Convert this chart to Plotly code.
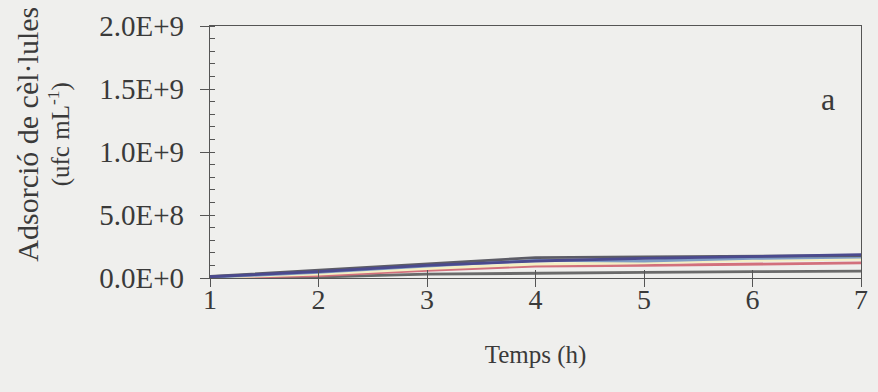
import plotly.graph_objects as go

hours = [1, 2, 3, 4, 5, 6, 7]
# adsorbed cells (ufc/mL)
s_navy = [1.0e7, 5.0e7, 1.0e8, 1.35e8, 1.55e8, 1.72e8, 1.85e8]
s_gray = [1.2e7, 6.0e7, 1.1e8, 1.62e8, 1.68e8, 1.72e8, 1.78e8]
s_lblue = [0.6e7, 4.5e7, 0.95e8, 1.40e8, 1.35e8, 1.55e8, 1.65e8]
s_yellow = [0.5e7, 3.0e7, 0.75e8, 1.10e8, 1.20e8, 1.40e8, 1.50e8]
s_red = [0.2e7, 2.0e7, 0.6e8, 0.95e8, 1.00e8, 1.10e8, 1.20e8]
s_low = [0.0, 0.8e7, 0.30e8, 0.40e8, 0.45e8, 0.50e8, 0.55e8]

series = [
    ("S1", s_low, "#6a6a6a"),
    ("S2", s_red, "#d2707c"),
    ("S3", s_yellow, "#f4efc4"),
    ("S4", s_lblue, "#7f9cc4"),
    ("S5", s_gray, "#5c5c66"),
    ("S6", s_navy, "#4b4a8e"),
]

ytick_vals = [0, 5e8, 1e9, 1.5e9, 2e9]
ytick_text = ["0.0E+0", "5.0E+8", "1.0E+9", "1.5E+9", "2.0E+9"]
xtick_vals = [1, 2, 3, 4, 5, 6, 7]

font_family = "Liberation Serif"
txt_color = "#3a3a3a"
axis_color = "#555555"

fig = go.Figure()
for name, vals, col in series:
    fig.add_trace(go.Scatter(x=hours, y=vals, mode="lines", name=name,
                             line=dict(color=col, width=2.8)))

# invisible trace on the overlay axis (for crossing x ticks)
fig.add_trace(go.Scatter(x=hours, y=s_low, xaxis="x2", mode="lines",
                         line=dict(width=0), hoverinfo="skip", showlegend=False,
                         opacity=0))

fig.update_layout(
    width=878, height=392,
    margin=dict(l=210, r=10, t=20, b=114),
    paper_bgcolor="#efefed", plot_bgcolor="#efefed",
    showlegend=False,
    font=dict(family=font_family, color=txt_color, size=22),
    xaxis=dict(
        range=[1, 7], tickvals=xtick_vals, ticks="outside", ticklen=8,
        tickcolor=axis_color, tickwidth=1.2,
        showline=True, linecolor=axis_color, linewidth=1.2, mirror=True,
        showgrid=False, zeroline=False,
        tickfont=dict(size=28, family=font_family, color=txt_color),
        ticklabelstandoff=-12,
        title=dict(text="Temps (h)", font=dict(size=25, family=font_family, color=txt_color),
                   standoff=31),
    ),
    xaxis2=dict(
        range=[1, 7], overlaying="x", anchor="y", side="bottom",
        tickvals=xtick_vals, ticks="inside", ticklen=8, tickcolor=axis_color,
        tickwidth=1.2, showticklabels=False, showline=False, showgrid=False,
        zeroline=False,
    ),
    yaxis=dict(
        range=[0, 2e9], tickvals=ytick_vals, ticktext=ytick_text,
        ticks="outside", ticklen=9, tickcolor=axis_color, tickwidth=1.2,
        showline=True, linecolor=axis_color, linewidth=1.2, mirror=True,
        showgrid=False, zeroline=False,
        tickfont=dict(size=29, family=font_family, color=txt_color),
        ticklabelstandoff=10,
        minor=dict(dtick=1e8, ticks="inside", ticklen=5, tickcolor=axis_color,
                   showgrid=False),
    ),
)

fig.add_annotation(
    text=("<span style='font-size:30px'>Adsorció de cèl·lules</span><br>"
          "<span style='font-size:25px'>(ufc mL<sup>-1</sup>)</span>"),
    textangle=-90, xref="paper", yref="paper",
    x=-0.256, y=0.57, xanchor="center", yanchor="middle", showarrow=False,
    font=dict(size=24, family=font_family, color=txt_color),
)
fig.add_annotation(
    text="a", xref="paper", yref="paper", x=0.95, y=0.71,
    xanchor="center", yanchor="middle", showarrow=False,
    font=dict(size=32, family=font_family, color=txt_color),
)

fig.write_html("out.html")
